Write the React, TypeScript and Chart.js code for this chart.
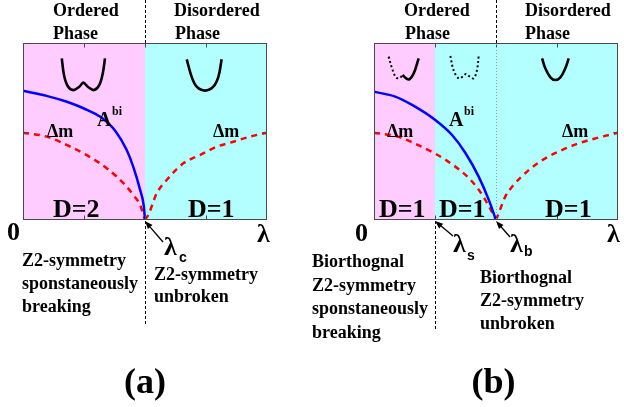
import React, { useEffect, useRef } from 'react';
import { Chart, registerables } from 'chart.js';

Chart.register(...registerables);

// ---------- shared axis description ----------
const X_TICKS = [0.25, 0.5, 0.75];
const Y_TICKS = [0.5];

// ---------- panel (a) ----------
const A_REGION_BOUNDS = [0, 0.5, 1];
const A_REGION_COLORS = ['#FFCCFF', '#B3FFFF'];
const A_BLUE_X = [0, 0.1, 0.18, 0.25, 0.32, 0.38, 0.425, 0.452, 0.48, 0.495, 0.5];
const A_BLUE_Y = [0.73, 0.70, 0.668, 0.63, 0.58, 0.5, 0.395, 0.3, 0.17, 0.08, 0];
const A_RED_L_X = [0, 0.097, 0.179, 0.247, 0.316, 0.384, 0.425, 0.452, 0.48, 0.5];
const A_RED_L_Y = [0.493, 0.471, 0.424, 0.377, 0.32, 0.245, 0.188, 0.141, 0.085, 0];
const A_RED_R_X = [0.5, 0.514, 0.548, 0.589, 0.657, 0.725, 0.794, 0.862, 0.93, 1];
const A_RED_R_Y = [0, 0.03, 0.151, 0.226, 0.32, 0.367, 0.414, 0.442, 0.471, 0.493];
const A_WELL2_X = [0.159, 0.168, 0.183, 0.206, 0.231, 0.247, 0.268, 0.291, 0.313, 0.327, 0.336];
const A_WELL2_Y = [0.913, 0.819, 0.757, 0.734, 0.753, 0.776, 0.75, 0.734, 0.763, 0.829, 0.913];
const A_WELL1_X = [0.671, 0.691, 0.712, 0.746, 0.78, 0.801, 0.814];
const A_WELL1_Y = [0.908, 0.81, 0.753, 0.731, 0.753, 0.81, 0.908];

// ---------- panel (b) ----------
const B_REGION_BOUNDS = [0, 0.25, 1];
const B_REGION_COLORS = ['#FFCCFF', '#B3FFFF'];
const B_BLUE_X = [0, 0.087, 0.156, 0.251, 0.32, 0.374, 0.429, 0.47, 0.5];
const B_BLUE_Y = [0.725, 0.697, 0.65, 0.565, 0.48, 0.38, 0.245, 0.115, 0];
const B_RED_L_X = [0, 0.097, 0.179, 0.251, 0.32, 0.384, 0.43, 0.47, 0.5];
const B_RED_L_Y = [0.493, 0.471, 0.424, 0.375, 0.315, 0.243, 0.17, 0.08, 0];
const B_RED_R_X = [0.5, 0.511, 0.538, 0.566, 0.634, 0.702, 0.77, 0.839, 0.907, 1];
const B_RED_R_Y = [0, 0.038, 0.132, 0.188, 0.282, 0.348, 0.395, 0.433, 0.461, 0.493];
const B_ICON1_DOT_X = [0.06, 0.074, 0.09, 0.104, 0.117];
const B_ICON1_DOT_Y = [0.923, 0.857, 0.806, 0.801, 0.819];
const B_ICON1_SOLID_X = [0.117, 0.131, 0.145, 0.163, 0.183];
const B_ICON1_SOLID_Y = [0.819, 0.801, 0.795, 0.829, 0.913];
const B_ICON2_X = [0.313, 0.326, 0.347, 0.367, 0.377, 0.388, 0.408, 0.422, 0.429];
const B_ICON2_Y = [0.927, 0.847, 0.8, 0.814, 0.825, 0.814, 0.8, 0.847, 0.927];
const B_ICON3_X = [0.689, 0.702, 0.723, 0.743, 0.764, 0.784, 0.798];
const B_ICON3_Y = [0.913, 0.857, 0.806, 0.791, 0.806, 0.857, 0.913];

const SERIF = '"Liberation Serif", "Times New Roman", serif';
const SANS = '"Liberation Sans", Arial, sans-serif';

const pts = (xs: number[], ys: number[]) => xs.map((x, i) => ({ x, y: ys[i] }));

function regionSets(bounds: number[], colors: string[]) {
  return colors.map((c, i) => ({
    data: [
      { x: bounds[i], y: 1 },
      { x: bounds[i + 1], y: 1 },
    ],
    fill: 'origin',
    backgroundColor: c,
    borderColor: 'transparent',
    borderWidth: 0,
    pointRadius: 0,
    order: 20,
  }));
}

function curve(xs: number[], ys: number[], color: string, width: number, dash: number[] = []) {
  return {
    data: pts(xs, ys),
    borderColor: color,
    borderWidth: width,
    borderDash: dash,
    pointRadius: 0,
    fill: false,
    tension: 0,
    cubicInterpolationMode: 'monotone',
    order: 1,
  };
}

function icon(xs: number[], ys: number[], dotted: boolean) {
  return {
    data: pts(xs, ys),
    borderColor: '#000',
    borderWidth: dotted ? 2 : 2.6,
    borderDash: dotted ? [2, 2.5] : [],
    pointRadius: 0,
    fill: false,
    tension: 0.35,
    order: 2,
  };
}

type Txt = { t: string; x: number; y: number; font: string; align?: CanvasTextAlign };
type PlotLbl = { t: string; x: number; y: number; font: string };
type Divider = { x: number; y0: number; y1: number; color: string; dash: number[] };
type Arrow = { fx: number; fy: number; tipX: number };

interface Spec {
  texts: Txt[];
  plotLabels: PlotLbl[];
  dividers: Divider[];
  arrows: Arrow[];
}

function overlay(spec: Spec) {
  return {
    id: 'overlay',
    afterDatasetsDraw(chart: any) {
      const { ctx, chartArea: ca } = chart;
      const xs = chart.scales.x;
      const ys = chart.scales.y;
      ctx.save();
      // frame
      ctx.strokeStyle = '#4a4a4a';
      ctx.lineWidth = 1;
      ctx.setLineDash([]);
      const L = Math.round(ca.left) + 0.5;
      const R = Math.round(ca.right) - 0.5;
      const T = Math.round(ca.top) + 0.5;
      const B = Math.round(ca.bottom) - 0.5;
      ctx.strokeRect(L, T, R - L, B - T);
      ctx.beginPath();
      X_TICKS.forEach((v) => {
        const px = Math.round(xs.getPixelForValue(v)) + 0.5;
        ctx.moveTo(px, B);
        ctx.lineTo(px, B - 4);
        ctx.moveTo(px, T);
        ctx.lineTo(px, T + 4);
      });
      Y_TICKS.forEach((v) => {
        const py = Math.round(ys.getPixelForValue(v)) + 0.5;
        ctx.moveTo(L, py);
        ctx.lineTo(L + 4, py);
        ctx.moveTo(R, py);
        ctx.lineTo(R - 4, py);
      });
      ctx.stroke();
      // dividers
      spec.dividers.forEach((d) => {
        const px = Math.round(xs.getPixelForValue(d.x)) + 0.5;
        ctx.strokeStyle = d.color;
        ctx.lineWidth = 1;
        ctx.setLineDash(d.dash);
        ctx.beginPath();
        ctx.moveTo(px, d.y0);
        ctx.lineTo(px, d.y1);
        ctx.stroke();
      });
      ctx.setLineDash([]);
      // arrows
      spec.arrows.forEach((a) => {
        const tx = xs.getPixelForValue(a.tipX);
        const ty = ys.getPixelForValue(0) + 1;
        const ang = Math.atan2(ty - a.fy, tx - a.fx);
        ctx.strokeStyle = '#000';
        ctx.fillStyle = '#000';
        ctx.lineWidth = 1.3;
        ctx.beginPath();
        ctx.moveTo(a.fx, a.fy);
        ctx.lineTo(tx - 6 * Math.cos(ang), ty - 6 * Math.sin(ang));
        ctx.stroke();
        ctx.beginPath();
        ctx.moveTo(tx, ty);
        ctx.lineTo(tx - 8 * Math.cos(ang) + 3 * Math.sin(ang), ty - 8 * Math.sin(ang) - 3 * Math.cos(ang));
        ctx.lineTo(tx - 8 * Math.cos(ang) - 3 * Math.sin(ang), ty - 8 * Math.sin(ang) + 3 * Math.cos(ang));
        ctx.closePath();
        ctx.fill();
      });
      // labels inside plot
      ctx.fillStyle = '#000';
      ctx.textBaseline = 'alphabetic';
      spec.plotLabels.forEach((l) => {
        ctx.font = l.font;
        ctx.textAlign = 'left';
        ctx.fillText(l.t, xs.getPixelForValue(l.x), ys.getPixelForValue(l.y));
      });
      // other text
      spec.texts.forEach((t) => {
        ctx.font = t.font;
        ctx.textAlign = t.align || 'left';
        ctx.fillText(t.t, t.x, t.y);
      });
      ctx.restore();
    },
  };
}

const F18 = `bold 18px ${SERIF}`;
const F26 = `bold 26px ${SERIF}`;
const F20 = `bold 20px ${SERIF}`;
const F12 = `bold 12px ${SERIF}`;
const FL = `bold 26px ${SERIF}`;
const FSUB = `bold 14px ${SANS}`;
const FCAP = `bold 36px ${SERIF}`;

const SPEC_A: Spec = {
  texts: [
    { t: 'Ordered', x: 53, y: 16, font: F18 },
    { t: 'Phase', x: 53, y: 39, font: F18 },
    { t: 'Disordered', x: 174, y: 16, font: F18 },
    { t: 'Phase', x: 175, y: 39, font: F18 },
    { t: '0', x: 7, y: 240, font: F26 },
    { t: 'λ', x: 257, y: 242, font: FL },
    { t: 'λ', x: 164, y: 255, font: FL },
    { t: 'c', x: 179, y: 262, font: FSUB },
    { t: 'Z2-symmetry', x: 22, y: 266, font: F18 },
    { t: 'sponstaneously', x: 22, y: 289, font: F18 },
    { t: 'breaking', x: 22, y: 312, font: F18 },
    { t: 'Z2-symmetry', x: 154, y: 280, font: F18 },
    { t: 'unbroken', x: 154, y: 302, font: F18 },
    { t: '(a)', x: 145, y: 393, font: FCAP, align: 'center' },
  ],
  plotLabels: [
    { t: 'Δm', x: 0.098, y: 0.469, font: F18 },
    { t: 'Δm', x: 0.779, y: 0.469, font: F18 },
    { t: 'A', x: 0.303, y: 0.531, font: F20 },
    { t: 'bi', x: 0.365, y: 0.593, font: F12 },
    { t: 'D=2', x: 0.123, y: 0.017, font: F26 },
    { t: 'D=1', x: 0.676, y: 0.017, font: F26 },
  ],
  dividers: [
    { x: 0.5, y0: 0, y1: 43, color: '#000', dash: [3, 2] },
    { x: 0.5, y0: 221, y1: 326, color: '#000', dash: [3, 2] },
  ],
  arrows: [{ fx: 163, fy: 242, tipX: 0.5 }],
};

const SPEC_B: Spec = {
  texts: [
    { t: 'Ordered', x: 92, y: 16, font: F18 },
    { t: 'Phase', x: 93, y: 39, font: F18 },
    { t: 'Disordered', x: 213, y: 16, font: F18 },
    { t: 'Phase', x: 213, y: 39, font: F18 },
    { t: '0', x: 43, y: 241, font: F26 },
    { t: 'λ', x: 295, y: 242, font: FL },
    { t: 'λ', x: 141, y: 252, font: FL },
    { t: 's', x: 155, y: 260, font: FSUB },
    { t: 'λ', x: 198, y: 252, font: FL },
    { t: 'b', x: 212, y: 256, font: FSUB },
    { t: 'Biorthognal', x: 0, y: 267, font: F18 },
    { t: 'Z2-symmetry', x: 0, y: 291, font: F18 },
    { t: 'sponstaneously', x: 0, y: 314, font: F18 },
    { t: 'breaking', x: 0, y: 338, font: F18 },
    { t: 'Biorthognal', x: 168, y: 283, font: F18 },
    { t: 'Z2-symmetry', x: 168, y: 306, font: F18 },
    { t: 'unbroken', x: 168, y: 329, font: F18 },
    { t: '(b)', x: 181.5, y: 393, font: FCAP, align: 'center' },
  ],
  plotLabels: [
    { t: 'Δm', x: 0.053, y: 0.469, font: F18 },
    { t: 'Δm', x: 0.77, y: 0.469, font: F18 },
    { t: 'A', x: 0.307, y: 0.531, font: F20 },
    { t: 'bi', x: 0.369, y: 0.593, font: F12 },
    { t: 'D=1', x: 0.02, y: 0.017, font: F26 },
    { t: 'D=1', x: 0.266, y: 0.017, font: F26 },
    { t: 'D=1', x: 0.701, y: 0.017, font: F26 },
  ],
  dividers: [
    { x: 0.5, y0: 0, y1: 43, color: '#000', dash: [3, 2] },
    { x: 0.5, y0: 44, y1: 219, color: '#9a9a9a', dash: [1, 2] },
    { x: 0.25, y0: 221, y1: 330, color: '#000', dash: [3, 2] },
  ],
  arrows: [
    { fx: 141, fy: 236, tipX: 0.25 },
    { fx: 198, fy: 237, tipX: 0.5 },
  ],
};

function makeConfig(datasets: any[], padding: any, spec: Spec) {
  return {
    type: 'line',
    data: { datasets },
    options: {
      animation: false,
      responsive: false,
      devicePixelRatio: 1,
      layout: { padding },
      parsing: true,
      plugins: { legend: { display: false }, tooltip: { enabled: false } },
      scales: {
        x: { type: 'linear', min: 0, max: 1, display: false },
        y: { type: 'linear', min: 0, max: 1, display: false },
      },
    },
    plugins: [overlay(spec)],
  };
}

function Panel({ which }: { which: 'a' | 'b' }) {
  const ref = useRef<HTMLCanvasElement>(null);
  useEffect(() => {
    if (!ref.current) return;
    let cfg: any;
    if (which === 'a') {
      cfg = makeConfig(
        [
          ...regionSets(A_REGION_BOUNDS, A_REGION_COLORS),
          curve(A_BLUE_X, A_BLUE_Y, '#0000FF', 2.5),
          curve(A_RED_L_X, A_RED_L_Y, '#FF0000', 2.5, [6, 5]),
          curve(A_RED_R_X, A_RED_R_Y, '#FF0000', 2.5, [6, 5]),
          icon(A_WELL2_X, A_WELL2_Y, false),
          icon(A_WELL1_X, A_WELL1_Y, false),
        ],
        { left: 23, top: 43, right: 45, bottom: 187 },
        SPEC_A
      );
    } else {
      cfg = makeConfig(
        [
          ...regionSets(B_REGION_BOUNDS, B_REGION_COLORS),
          curve(B_BLUE_X, B_BLUE_Y, '#0000FF', 2.5),
          curve(B_RED_L_X, B_RED_L_Y, '#FF0000', 2.5, [6, 5]),
          curve(B_RED_R_X, B_RED_R_Y, '#FF0000', 2.5, [6, 5]),
          icon(B_ICON1_DOT_X, B_ICON1_DOT_Y, true),
          icon(B_ICON1_SOLID_X, B_ICON1_SOLID_Y, false),
          icon(B_ICON2_X, B_ICON2_Y, true),
          icon(B_ICON3_X, B_ICON3_Y, false),
        ],
        { left: 62, top: 43, right: 6, bottom: 187 },
        SPEC_B
      );
    }
    const chart = new Chart(ref.current, cfg);
    return () => chart.destroy();
  }, [which]);
  return (
    <canvas
      ref={ref}
      width={312}
      height={407}
      style={{ position: 'absolute', top: 0, left: which === 'a' ? 0 : 312, width: 312, height: 407 }}
    />
  );
}

export default function App() {
  return (
    <div style={{ position: 'absolute', left: 0, top: 0, width: 624, height: 407, background: '#fff' }}>
      <Panel which="a" />
      <Panel which="b" />
    </div>
  );
}
